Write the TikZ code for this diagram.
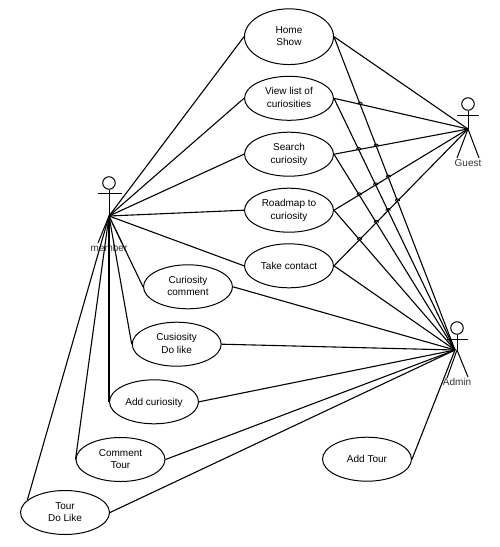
\documentclass[tikz,border=0pt]{standalone}
\usepackage{fontspec}
\setmainfont{Liberation Sans}
\usetikzlibrary{shapes.geometric,intersections}
\tikzset{
	usecase/.style={draw, ellipse, line width=1pt, minimum width=89pt, minimum height=44pt, inner sep=0pt, align=center, font=\fontsize{10}{12.5}\selectfont},
	oneline/.style={usecase, text height=7.5pt, text depth=0.9pt},
	twoline/.style={usecase, text height=20pt, text depth=2pt},
	head/.style={draw, circle, line width=1pt, minimum size=12.5pt, inner sep=0pt},
	actorname/.style={inner sep=0pt, font=\fontsize{10}{13}\selectfont, text=black!80},
	link/.style={line width=1.1pt}
}
\begin{document}
\begin{tikzpicture}[x=1pt, y=-1pt, line width=1pt]
	\useasboundingbox (0,0) rectangle (500,547);

	% 用例
	\node[twoline, minimum height=55.7pt] (home) at (289,36.7) {Home\\Show};
	\node[twoline] (view) at (289,98.3) {View list of\\curiosities};
	\node[twoline] (search) at (289,154.2) {Search\\curiosity};
	\node[twoline] (road) at (289,210.2) {Roadmap to\\curiosity};
	\node[oneline] (take) at (289,265.8) {Take contact};
	\node[twoline] (comment) at (188,286.8) {Curiosity\\comment};
	\node[twoline] (like) at (176.7,344.2) {Cusiosity\\Do like};
	\node[oneline] (add) at (154,401.8) {Add curiosity};
	\node[twoline] (tourcomment) at (120.5,459.5) {Comment\\Tour};
	\node[twoline] (tourlike) at (65,512.5) {Tour\\Do Like};
	\node[oneline] (addtour) at (367,459.2) {Add Tour};

	% 参与者
	\coordinate (member) at (109,216);
	\node[head] (memberhead) at (109,183) {};
	\draw (memberhead) -- (member) (98,193) -- (122,193);
	\draw (member) -- (98,243) (member) -- (122,243);
	\node[actorname] (membername) at (109,247.5) {member};

	\coordinate (guest) at (468,129);
	\node[head] (guesthead) at (468,104) {};
	\draw (guesthead) -- (guest) (457,115) -- (479,115);
	\draw (guest) -- (457,158) (guest) -- (479,158);
	\node[actorname] (guestname) at (468,163) {Guest};

	\coordinate (admin) at (455,350);
	\node[head] (adminhead) at (457,328) {};
	\draw (adminhead) -- (457,350) (447,339) -- (468,339);
	\draw (457,350) -- (447,378) (457,350) -- (468,377);
	\node[actorname] (adminname) at (457,381.5) {Admin};

	% member 的连线
	\foreach \uc in {home,view,search,road,take,comment,like,add,tourcomment}
		\draw[link] (member) -- (\uc.west);
	\draw[link] (member) -- (tourlike.162);

	% guest 与 admin 的连线
	\foreach \uc in {home,view,search,road,take} {
		\draw[link, name path global=g\uc] (guest) -- (\uc.east);
		\draw[link, name path global=a\uc] (admin) -- (\uc.east);
	}
	\foreach \uc in {comment,like,add,tourcomment,tourlike,addtour}
		\draw[link] (admin) -- (\uc.east);

	% 跨线处的小弧
	\foreach \gl/\alist in {view/{home}, search/{home,view}, road/{home,view,search}, take/{home,view,search,road}}
		\foreach \al in \alist {
			\path[name intersections={of={g\gl} and {a\al}}];
			\draw[line width=0.9pt] ([xshift=-2.2pt]intersection-1) arc[start angle=180, end angle=0, radius=2.2pt];
		}
\end{tikzpicture}
\end{document}
